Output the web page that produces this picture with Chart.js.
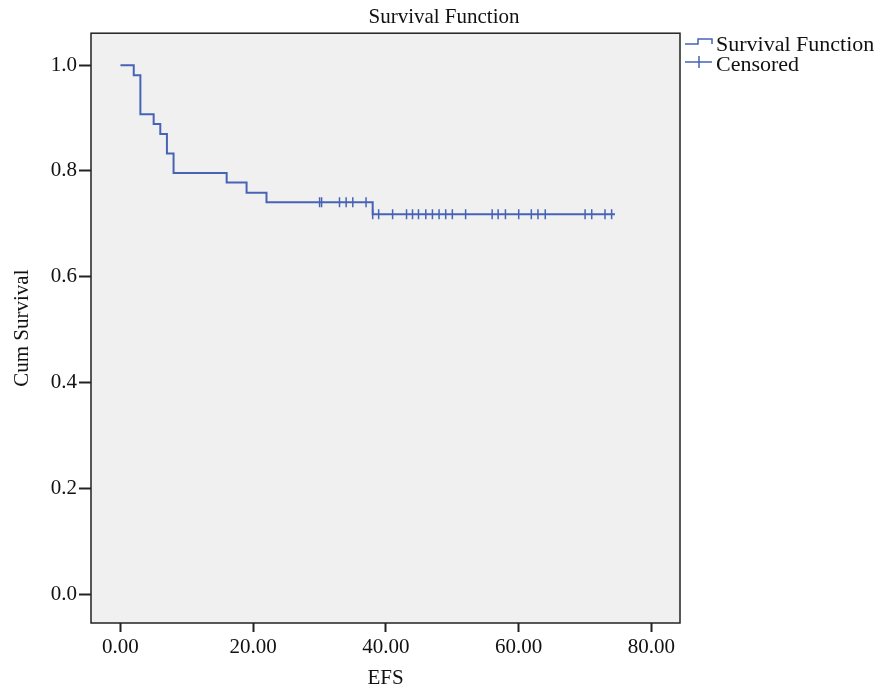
<!DOCTYPE html>
<html>
<head>
<meta charset="utf-8">
<script src="https://cdn.jsdelivr.net/npm/chart.js@4"></script>
<style>
  html, body { margin: 0; padding: 0; background: #fff; }
  canvas { display: block; }
</style>
</head>
<body>
<canvas id="km" width="888" height="691"></canvas>
<script>
// step curve: time of each drop and the survival level after it
const stepTimes = [0, 2, 3, 5, 6, 7, 8, 16, 19, 22, 38, 74.5];
const stepSurv = [1.0, 0.981, 0.907, 0.889, 0.870, 0.833, 0.796, 0.778, 0.759, 0.741, 0.718, 0.718];

// censored marks
const censTimes = [30.0, 30.3, 33.0, 34.0, 35.0, 37.0,
  38.0, 38.9, 41.0, 43.1, 44.0, 44.9, 46.0, 47.0, 48.0, 49.0, 50.0, 52.0,
  56.0, 56.9, 58.0, 60.0, 61.9, 62.9, 64.0, 70.0, 71.0, 73.0, 74.0];
const censSurv = [0.741, 0.741, 0.741, 0.741, 0.741, 0.741,
  0.718, 0.718, 0.718, 0.718, 0.718, 0.718, 0.718, 0.718, 0.718, 0.718, 0.718, 0.718,
  0.718, 0.718, 0.718, 0.718, 0.718, 0.718, 0.718, 0.718, 0.718, 0.718, 0.718];

const xTicks = [0, 20, 40, 60, 80];
const yTicks = [0, 0.2, 0.4, 0.6, 0.8, 1.0];

const legendLabels = ["Survival Function", "Censored"];

const BLUE = "#4763b6";
const FONT = "'Liberation Serif', 'Times New Roman', serif";
Chart.defaults.font.family = FONT;
Chart.defaults.color = "#111";

// grey plot background + black frame
const frame = {
  id: "frame",
  beforeDatasetsDraw(chart) {
    const { ctx, chartArea: a } = chart;
    ctx.save();
    ctx.fillStyle = "#f0f0f0";
    ctx.fillRect(a.left, a.top, a.right - a.left, a.bottom - a.top);
    ctx.restore();
  },
  afterDraw(chart) {
    const { ctx, chartArea: a } = chart;
    ctx.save();
    ctx.strokeStyle = "#222";
    ctx.lineWidth = 1.5;
    ctx.strokeRect(a.left, a.top, a.right - a.left, a.bottom - a.top);
    ctx.restore();
  }
};

// SPSS style legend to the right of the plot
const sideLegend = {
  id: "sideLegend",
  afterDraw(chart) {
    const { ctx, chartArea: a } = chart;
    const x0 = a.right + 5;
    ctx.save();
    ctx.strokeStyle = BLUE;
    ctx.lineWidth = 1.5;
    // step icon
    ctx.beginPath();
    ctx.moveTo(x0, 44);
    ctx.lineTo(x0 + 13, 44);
    ctx.lineTo(x0 + 13, 39);
    ctx.lineTo(x0 + 27, 39);
    ctx.lineTo(x0 + 27, 44);
    ctx.stroke();
    // censored icon
    ctx.beginPath();
    ctx.moveTo(x0, 62);
    ctx.lineTo(x0 + 27, 62);
    ctx.moveTo(x0 + 14, 56);
    ctx.lineTo(x0 + 14, 68);
    ctx.stroke();
    ctx.fillStyle = "#111";
    ctx.font = "22px " + FONT;
    ctx.textBaseline = "middle";
    ctx.fillText(legendLabels[0], x0 + 31, 45);
    ctx.fillText(legendLabels[1], x0 + 31, 65);
    ctx.restore();
  }
};

new Chart(document.getElementById("km"), {
  data: {
    datasets: [
      {
        type: "line",
        label: legendLabels[0],
        data: stepTimes.map((t, i) => ({ x: t, y: stepSurv[i] })),
        stepped: "before",
        borderColor: BLUE,
        borderWidth: 2,
        pointRadius: 0,
        fill: false
      },
      {
        type: "scatter",
        label: legendLabels[1],
        data: censTimes.map((t, i) => ({ x: t, y: censSurv[i] })),
        pointStyle: "line",
        rotation: 90,
        pointRadius: 5,
        borderColor: BLUE,
        borderWidth: 1.5,
        showLine: false
      }
    ]
  },
  options: {
    responsive: false,
    animation: false,
    layout: { padding: 0 },
    plugins: {
      legend: { display: false },
      tooltip: { enabled: false },
      title: {
        display: true,
        text: "Survival Function",
        color: "#111",
        font: { size: 21, weight: "normal" },
        padding: { top: 5, bottom: 3 }
      }
    },
    scales: {
      x: {
        type: "linear",
        position: "bottom",
        min: -4.44,
        max: 84.3,
        afterBuildTicks: s => { s.ticks = xTicks.map(v => ({ value: v })); },
        afterFit: s => { s.height = 68; },
        ticks: {
          callback: v => v.toFixed(2),
          font: { size: 21 },
          color: "#111",
          padding: 3,
          maxRotation: 0
        },
        grid: {
          drawOnChartArea: false,
          drawTicks: true,
          tickLength: 9,
          tickWidth: 2,
          tickColor: "#222"
        },
        border: { display: false },
        title: {
          display: true,
          text: "EFS",
          font: { size: 21 },
          color: "#111",
          padding: { top: 0, bottom: 0 }
        }
      },
      y: {
        type: "linear",
        min: -0.0548,
        max: 1.0605,
        afterBuildTicks: s => { s.ticks = yTicks.map(v => ({ value: v })); },
        afterFit: s => { s.width = 91; },
        ticks: {
          callback: v => v.toFixed(1),
          font: { size: 21 },
          color: "#111",
          padding: 2
        },
        grid: {
          drawOnChartArea: false,
          drawTicks: true,
          tickLength: 12,
          tickWidth: 2,
          tickColor: "#222"
        },
        border: { display: false },
        title: {
          display: true,
          text: "Cum Survival",
          font: { size: 21 },
          color: "#111",
          padding: { top: 10, bottom: 0 }
        }
      },
      // empty right-hand axis that reserves the room where the legend is drawn
      side: {
        type: "linear",
        position: "right",
        min: 0,
        max: 1,
        afterFit: s => { s.width = 208; },
        ticks: { display: false },
        grid: { display: false },
        border: { display: false }
      }
    }
  },
  plugins: [frame, sideLegend]
});
</script>
</body>
</html>
